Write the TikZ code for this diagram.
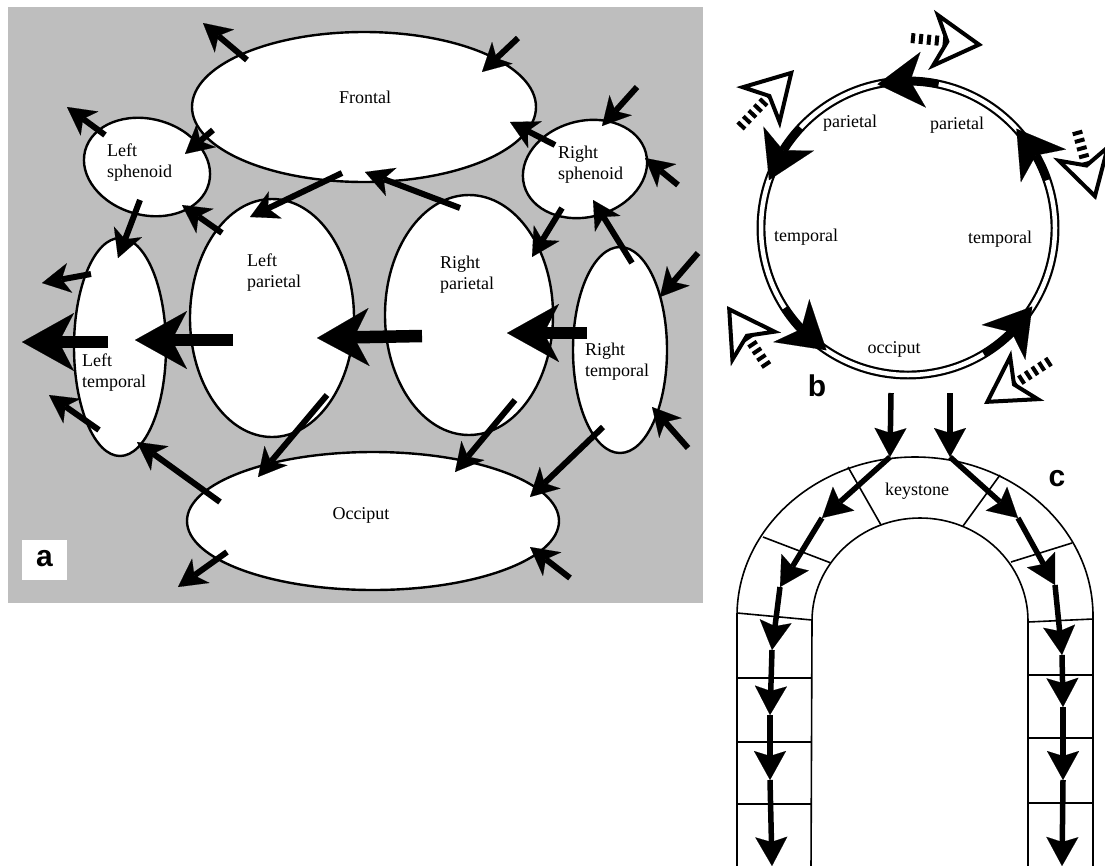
\documentclass[tikz,border=0pt]{standalone}
\usepackage{fontspec}
\setmainfont{Liberation Serif}
\newfontfamily\labfont{Liberation Sans}
\usetikzlibrary{shapes.geometric,arrows.meta,bending}
\definecolor{panelgray}{RGB}{190,190,190}
\begin{document}
\begin{tikzpicture}[x=1pt,y=-1pt,
  every node/.style={font=\fontsize{18}{21}\selectfont, inner sep=0pt},
  bone/.style={ellipse, draw, line width=2.4pt, fill=white, inner sep=0pt},
  txt/.style={align=left, anchor=west},
  arr/.style={line width=6pt, -{Stealth[length=28pt,width=30pt,inset=8pt,line width=0.1pt]}},
  bigarr/.style={line width=12.5pt, -{Stealth[length=52pt,width=58pt,inset=15pt,line width=0.1pt]}},
  ringarr/.style={line width=8pt, -{Stealth[flex,length=46pt,width=56pt,inset=13pt,line width=0.1pt]}},
  hollow/.style={line width=10pt, dash pattern=on 4pt off 4pt, -{Stealth[open,length=52pt,width=60pt,inset=14pt,line width=4pt]}},
  archline/.style={line width=1.6pt},
  archarr/.style={line width=5.5pt, -{Stealth[length=29pt,width=32pt,inset=5pt,line width=0.1pt]}},
  panellab/.style={font=\labfont\bfseries\fontsize{30}{30}\selectfont}
]
\useasboundingbox (0,0) rectangle (1105,865);

% ---------------- panel a ----------------
\fill[panelgray] (8,7) rectangle (703,603);

\node[bone, minimum width=344pt, minimum height=150pt] (frontal) at (364,107) {};
\node[bone, minimum width=128pt, minimum height=96pt, rotate=-15] (lsph) at (147,167) {};
\node[bone, minimum width=126pt, minimum height=96pt, rotate=15] (rsph) at (585,169) {};
\node[bone, minimum width=164pt, minimum height=238pt] (lpar) at (272,318) {};
\node[bone, minimum width=168pt, minimum height=240pt] (rpar) at (469,315) {};
\node[bone, minimum width=92pt, minimum height=218pt] (ltem) at (120,347) {};
\node[bone, minimum width=94pt, minimum height=206pt] (rtem) at (620,350) {};
\node[bone, minimum width=372pt, minimum height=138pt] (occ) at (373,521) {};

\node (tfrontal) at (365,97) {Frontal};
\node[txt] (tlsph) at (107,163) {Left\\sphenoid};
\node[txt] (trsph) at (558,165) {Right\\sphenoid};
\node[txt] (tlpar) at (247,273) {Left\\parietal};
\node[txt] (trpar) at (440,275) {Right\\parietal};
\node[txt] (tltem) at (82,373) {Left\\temporal};
\node[txt] (trtem) at (585,362) {Right\\temporal};
\node (tocc) at (361,515) {Occiput};

\draw[arr] (247,60) -- (203,23);
\draw[arr] (105,135) -- (67,107);
\draw[arr] (213,130) -- (185,154);
\draw[arr] (342,173) -- (250,217);
\draw[arr] (140,200) -- (118,258);
\draw[arr] (222,233) -- (182,205);
\draw[arr] (91,274) -- (42,283);
\draw[arr] (518,38) -- (482,72);
\draw[arr] (637,87) -- (602,126);
\draw[arr] (555,145) -- (510,122);
\draw[arr] (678,185) -- (645,158);
\draw[arr] (460,208) -- (365,172);
\draw[arr] (562,208) -- (532,257);
\draw[arr] (632,263) -- (593,200);
\draw[arr] (698,253) -- (660,297);
\draw[arr] (99,430) -- (49,395);
\draw[arr] (220,502) -- (137,442);
\draw[arr] (327,395) -- (258,477);
\draw[arr] (227,552) -- (178,587);
\draw[arr] (515,400) -- (455,472);
\draw[arr] (603,427) -- (530,497);
\draw[arr] (688,448) -- (652,407);
\draw[arr] (570,578) -- (530,547);

\draw[bigarr] (108,342) -- (22,342);
\draw[bigarr] (233,340) -- (135,340);
\draw[bigarr] (422,336) -- (317,338);
\draw[bigarr] (587,333) -- (507,333);

\fill[white] (22,540) rectangle (67,580);
\node[panellab] (la) at (44.5,559) {a};

% ---------------- panel b ----------------
\draw[line width=2.2pt, double distance=4.5pt] (908,228) circle[radius=147];
\begin{scope}[shift={(908,228)}]
  \draw[ringarr] (-78:147) arc[start angle=-78, end angle=-102, radius=147];
  \draw[ringarr] (-137:147) arc[start angle=-137, end angle=-161, radius=147];
  \draw[ringarr] (147:147) arc[start angle=147, end angle=123.7, radius=147];
  \draw[ringarr] (59:147) arc[start angle=59, end angle=32.3, radius=147];
  \draw[ringarr] (-19:147) arc[start angle=-19, end angle=-42.5, radius=147];
\end{scope}

\draw[hollow] (911,38) -- (983,45);
\draw[hollow] (740,127) -- (794,70);
\draw[hollow] (1077,131) -- (1096,200);
\draw[hollow] (767,366) -- (727,306);
\draw[hollow] (1050,361) -- (984,404);

\node (bp1) at (850,123) {parietal};
\node (bp2) at (957,125) {parietal};
\node (bt1) at (806,237) {temporal};
\node (bt2) at (1000,239) {temporal};
\node (bo) at (894,349) {occiput};
\node[panellab] (lb) at (817,386) {b};

% ---------------- panel c ----------------
\draw[archline] (737,870) -- (737,616) arc[start angle=180, end angle=360, x radius=178, y radius=159] -- (1093,870);
\draw[archline] (811,870) -- (812,621) arc[start angle=180, end angle=360, x radius=108, y radius=103] -- (1028,870);
\draw[archline] (848,467) -- (881,525);
\draw[archline] (763,537) -- (831,563);
\draw[archline] (737,613) -- (812,620);
\draw[archline] (1000,475) -- (963,526);
\draw[archline] (1072,543) -- (1011,562);
\draw[archline] (1093,619) -- (1028,622);
\draw[archline] (737,678) -- (812,678);
\draw[archline] (737,742) -- (811,742);
\draw[archline] (737,804) -- (811,804);
\draw[archline] (1028,675) -- (1093,675);
\draw[archline] (1028,738) -- (1093,738);
\draw[archline] (1028,803) -- (1093,803);

\node (keystone) at (917,491) {keystone};
\node[panellab] (lc) at (1057,479) {c};

\coordinate (L0) at (891,393);
\coordinate (L1) at (890,457);
\coordinate (L2) at (822,518);
\coordinate (L3) at (780,587);
\coordinate (L4) at (772,650);
\coordinate (L5) at (770,715);
\coordinate (L6) at (770,780);
\coordinate (L7) at (772,866);
\coordinate (R0) at (950,393);
\coordinate (R1) at (950,457);
\coordinate (R2) at (1018,518);
\coordinate (R3) at (1055,585);
\coordinate (R4) at (1062,655);
\coordinate (R5) at (1063,707);
\coordinate (R6) at (1063,780);
\coordinate (R7) at (1062,866);
\draw[archarr] (L0) -- (L1);
\draw[archarr] (L1) -- (L2);
\draw[archarr] (L2) -- (L3);
\draw[archarr] (L3) -- (L4);
\draw[archarr] (L4) -- (L5);
\draw[archarr] (L5) -- (L6);
\draw[archarr] (L6) -- (L7);
\draw[archarr] (R0) -- (R1);
\draw[archarr] (R1) -- (R2);
\draw[archarr] (R2) -- (R3);
\draw[archarr] (R3) -- (R4);
\draw[archarr] (R4) -- (R5);
\draw[archarr] (R5) -- (R6);
\draw[archarr] (R6) -- (R7);
\end{tikzpicture}
\end{document}
